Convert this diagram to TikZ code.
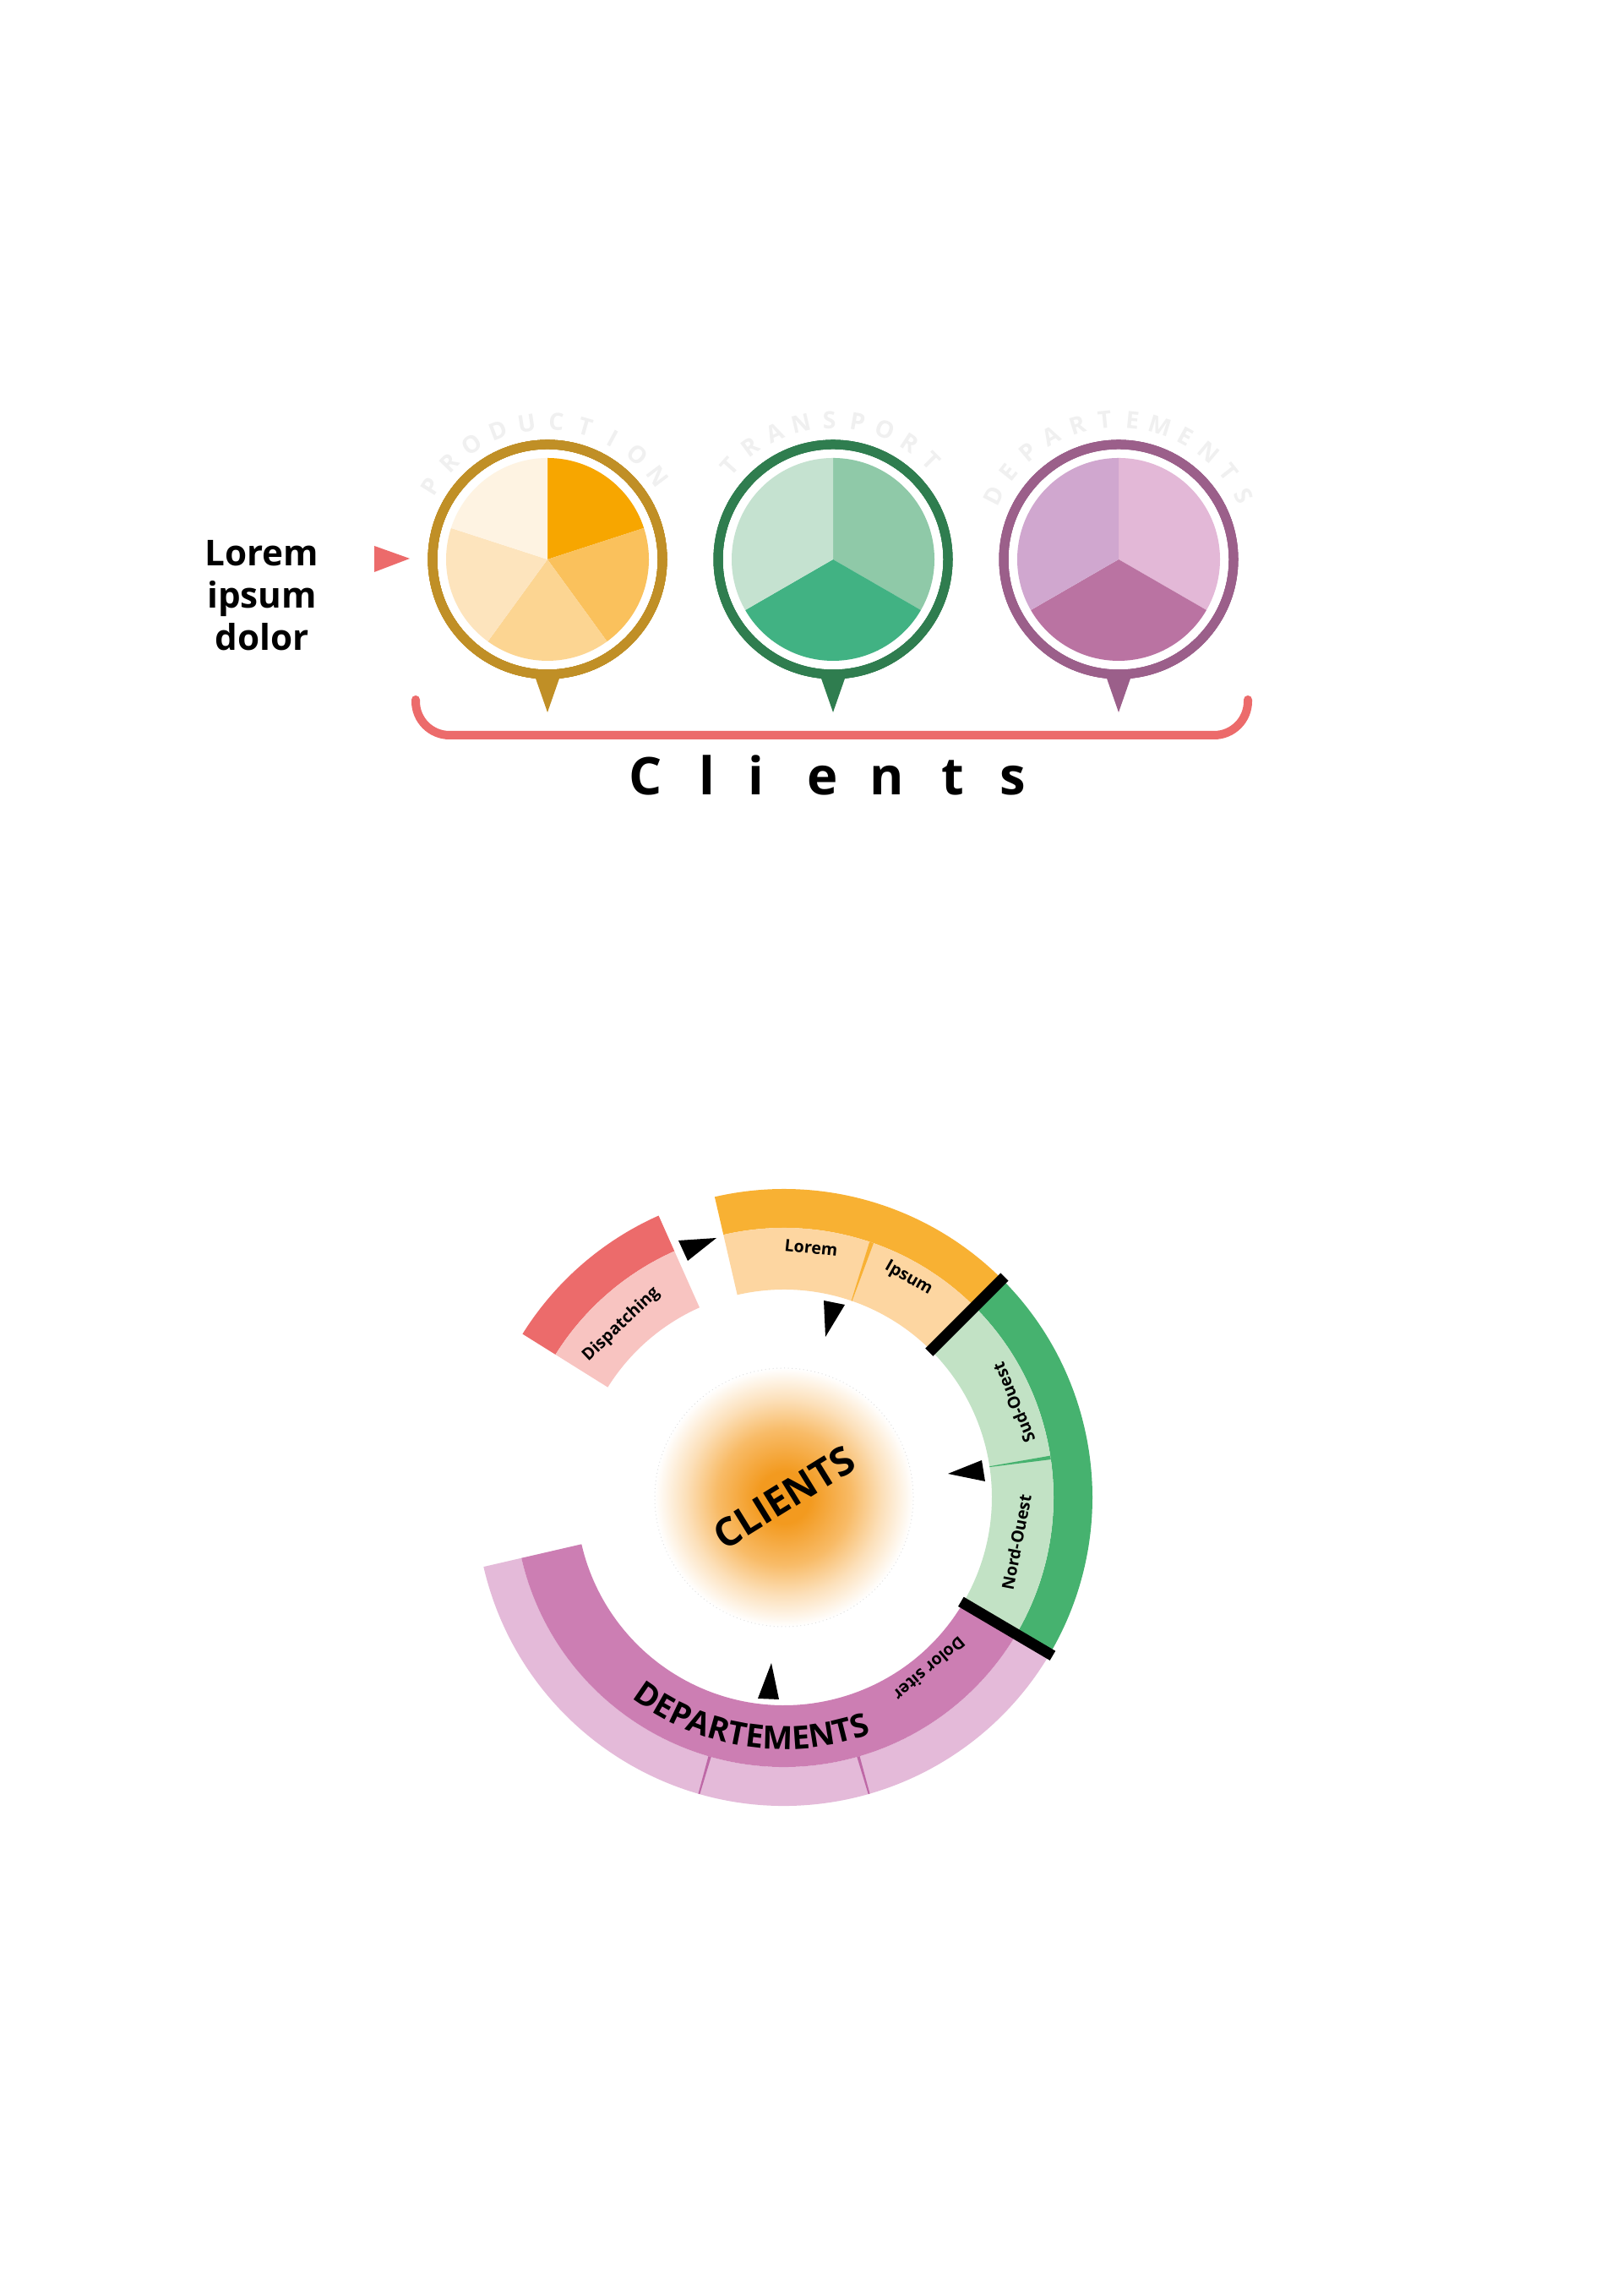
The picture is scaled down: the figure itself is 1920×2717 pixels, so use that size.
\documentclass[tikz,border=0pt]{standalone}
\usepackage{fontspec}
\setmainfont{Open Sans}
\setsansfont{Open Sans}
\usetikzlibrary{decorations.text}

\definecolor{prodring}{HTML}{C08F26}
\definecolor{prodA}{HTML}{F7A600}
\definecolor{prodB}{HTML}{FAC15C}
\definecolor{prodC}{HTML}{FCD592}
\definecolor{prodD}{HTML}{FDE4BD}
\definecolor{prodE}{HTML}{FEF3E2}
\definecolor{transring}{HTML}{2F7D4F}
\definecolor{transA}{HTML}{8FC9A8}
\definecolor{transB}{HTML}{41B283}
\definecolor{transC}{HTML}{C5E2D0}
\definecolor{depring}{HTML}{9B5F8A}
\definecolor{depA}{HTML}{E3B8D7}
\definecolor{depB}{HTML}{BA73A2}
\definecolor{depC}{HTML}{D0A7CF}
\definecolor{coral}{HTML}{EC6B6B}
\definecolor{pinklight}{HTML}{F8C4C1}
\definecolor{orangedark}{HTML}{F8B133}
\definecolor{orangelight}{HTML}{FDD6A1}
\definecolor{greendark}{HTML}{46B26F}
\definecolor{greenlight}{HTML}{C2E2C5}
\definecolor{purpledark}{HTML}{CC7EB3}
\definecolor{purplelight}{HTML}{E4BAD9}
\definecolor{purpleline}{HTML}{BE68A6}
\definecolor{glowcore}{HTML}{F39A1F}
\definecolor{glowmid}{HTML}{F8BB67}
\definecolor{glowsoft}{HTML}{FCE0BA}

\pgfdeclareradialshading{clientglow}{\pgfpoint{0bp}{0bp}}{%
  color(0bp)=(glowcore); color(5bp)=(glowcore); color(13bp)=(glowmid);
  color(19bp)=(glowsoft); color(25bp)=(white); color(50bp)=(white)}

\newcommand{\ringsector}[5]{%
  \fill[#1] (#2:#5) arc[start angle=#2, end angle=#3, radius=#5]
    -- (#3:#4) arc[start angle=#3, end angle=#2, radius=#4] -- cycle;}
\newcommand{\pieslice}[3]{%
  \fill[#1] (0,0) -- (#2:120) arc[start angle=#2, end angle=#3, radius=120] -- cycle;}

\tikzset{
  sidetext/.style={font=\bfseries\fontsize{12}{14}\selectfont, inner sep=0pt},
  titletext/.style={font=\bfseries\fontsize{17.5}{20}\selectfont, inner sep=0pt},
  pietitle/.style={font=\bfseries\fontsize{8}{8}\selectfont, text=black!6, inner sep=0pt},
  ringlabel/.style={font=\bfseries\fontsize{5.6}{7}\selectfont, inner sep=0pt},
  pinring/.style={line width=1.1mm},
  bar/.style={line width=1.3mm},
}

\begin{document}
\begin{tikzpicture}[x=0.1mm, y=0.1mm]
\fill[white] (0,0) rectangle (1920,2717);
\useasboundingbox (0,0) rectangle (1920,2717);

\foreach \w [count=\i] in {Lorem,ipsum,dolor}
  \node[sidetext, anchor=base] (side\i) at (310,2097-50*\i) {\w};
\fill[coral] (443,2071) -- (485,2056) -- (443,2040) -- cycle;

\begin{scope}[shift={(648,2055)}]
  \foreach \a/\b/\c in {90/18/prodA, 18/-54/prodB, -54/-126/prodC, -126/-198/prodD, -198/-270/prodE}
    \pieslice{\c}{\a}{\b}
  \draw[prodring, pinring] (0,0) circle[radius=136];
  \fill[prodring] (-15,-138) -- (15,-138) -- (0,-181) -- cycle;
  \foreach \ch [count=\i, evaluate=\i as \ang using 148-(\i-1)*111/9] in {P,R,O,D,U,C,T,I,O,N}
    \node[pietitle, rotate=\ang-90] (prod\i) at (\ang:163) {\ch};
\end{scope}

\begin{scope}[shift={(986,2055)}]
  \foreach \a/\b/\c in {90/-30/transA, -30/-150/transB, -150/-270/transC}
    \pieslice{\c}{\a}{\b}
  \draw[transring, pinring] (0,0) circle[radius=136];
  \fill[transring] (-15,-138) -- (15,-138) -- (0,-181) -- cycle;
  \foreach \ch [count=\i, evaluate=\i as \ang using 138-(\i-1)*93/8] in {T,R,A,N,S,P,O,R,T}
    \node[pietitle, rotate=\ang-90] (trans\i) at (\ang:165) {\ch};
\end{scope}

\begin{scope}[shift={(1324,2055)}]
  \foreach \a/\b/\c in {90/-30/depA, -30/-150/depB, -150/-270/depC}
    \pieslice{\c}{\a}{\b}
  \draw[depring, pinring] (0,0) circle[radius=136];
  \fill[depring] (-15,-138) -- (15,-138) -- (0,-181) -- cycle;
  \foreach \ch [count=\i, evaluate=\i as \ang using 153-(\i-1)*126/11] in {D,E,P,A,R,T,E,M,E,N,T,S}
    \node[pietitle, rotate=\ang-90] (dep\i) at (\ang:166) {\ch};
\end{scope}

\draw[coral, line width=1mm, line cap=round, rounded corners=4mm]
  (492,1889) -- (492,1847) -- (1477,1847) -- (1477,1889);
\foreach \ch/\x in {C/764, l/837, i/895, e/974, n/1050, t/1128, s/1199}
  \node[titletext, anchor=base] (clients-\ch) at (\x,1776) {\ch};

\begin{scope}[shift={(928,945)}]
  \shade[shading=clientglow] (0,0) circle[radius=153];
  \draw[black!12, densely dotted, line width=0.1mm] (0,0) circle[radius=153];
  \ringsector{orangedark}{45}{103}{319}{365}
  \ringsector{orangelight}{45}{103}{246}{319}
  \ringsector{greendark}{-30.5}{45}{319}{365}
  \ringsector{greenlight}{-30.5}{45}{246}{319}
  \ringsector{purplelight}{193}{329.5}{319}{365}
  \ringsector{purpledark}{193}{329.5}{246}{319}
  \ringsector{coral}{114}{148}{319}{365}
  \ringsector{pinklight}{114}{148}{246}{319}
  \fill[orangedark] (70.9:246) -- (71.1:246) -- (71.5:319) -- (70.6:319) -- cycle;
  \fill[greendark] (8.4:246) -- (8.6:246) -- (8.9:319) -- (8.1:319) -- cycle;
  \foreach \a in {-106,-74}
    \fill[purpleline] (\a-0.3:319) -- (\a+0.3:319) -- (\a+0.15:365) -- (\a-0.15:365) -- cycle;
  \draw[bar] (45:243) -- (45:369);
  \draw[bar] (-30.5:243) -- (-30.5:369);
  \node[font=\bfseries\fontsize{13.2}{14}\selectfont, rotate=31.7] (clients) at (0,0) {CLIENTS};
  \node[ringlabel, rotate=-6] (lorem) at (83.8:297) {Lorem};
  \node[ringlabel, rotate=-29.6] (ipsum) at (60.4:298) {Ipsum};
  \node[ringlabel, rotate=43.3] (dispatching) at (133.3:281) {Dispatching};
  \node[ringlabel, rotate=112.4] (sudouest) at (22.4:294) {Sud-Ouest};
  \node[ringlabel, rotate=79.1] (nordouest) at (-10.9:280) {Nord-Ouest};
  \node[ringlabel, rotate=220.3] (dolor) at (-49.7:266) {Dolor siter};
  \path[decorate, decoration={text along path, text align=center,
      text={|\bfseries\fontsize{10.8}{12}\selectfont|DEPARTEMENTS}}]
    (221.5:298) arc[start angle=221.5, end angle=301.5, radius=298];
\end{scope}

\fill (803,1249) -- (848,1252) -- (814,1225) -- cycle;
\fill (975,1178) -- (1000,1173) -- (977,1135) -- cycle;
\fill (1122,973) -- (1162,989) -- (1166,964) -- cycle;
\fill (913,749) -- (897,707) -- (922,706) -- cycle;
\end{tikzpicture}
\end{document}
